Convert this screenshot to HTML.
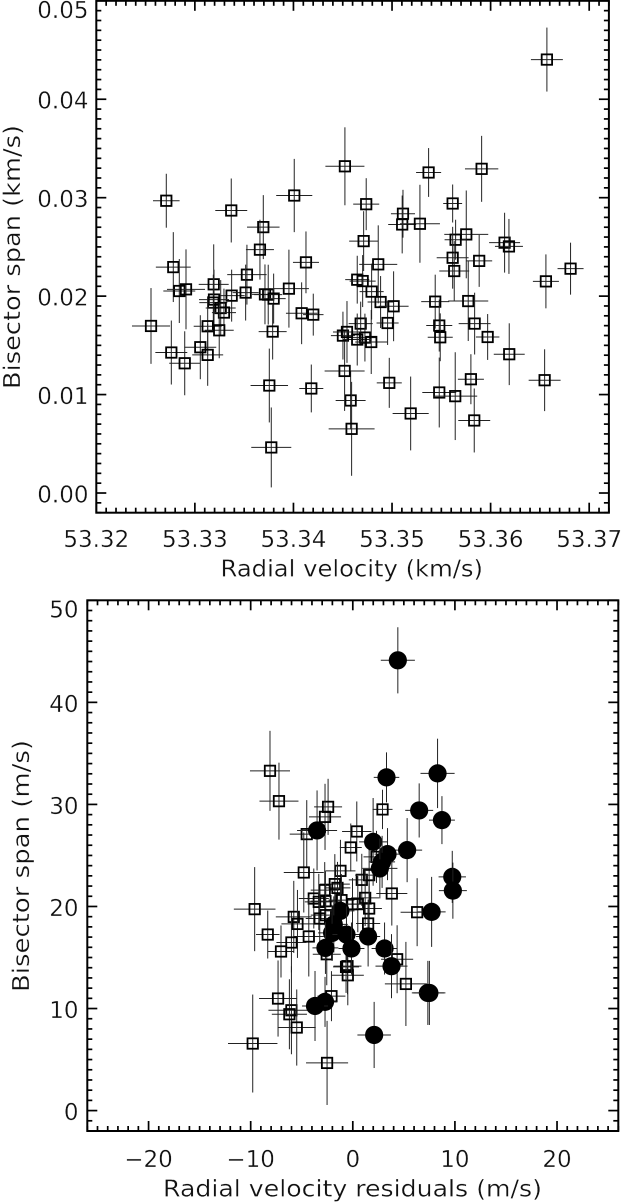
<!DOCTYPE html>
<html lang="en">
<head>
<meta charset="utf-8">
<title>Bisector span vs radial velocity</title>
<style>
html,body{margin:0;padding:0;background:#fff;}
svg{display:block;}
text{font-family:"DejaVu Sans","Liberation Sans",sans-serif;fill:#111;stroke:#fff;stroke-width:0.3px;paint-order:normal;}
</style>
</head>
<body>
<svg id="figure" width="621" height="1204" viewBox="0 0 621 1204" xmlns="http://www.w3.org/2000/svg">
<rect x="0" y="0" width="621" height="1204" fill="#fff"/>
<g id="top-panel"></g>
<g id="bottom-panel"></g>
<text x="220.5" y="576.5" font-size="23" textLength="262.5" lengthAdjust="spacingAndGlyphs">Radial velocity (km/s)</text>
<text transform="translate(20,389) rotate(-90)" font-size="23" textLength="264" lengthAdjust="spacingAndGlyphs">Bisector span (km/s)</text>
<text x="163" y="1196.5" font-size="23" textLength="379" lengthAdjust="spacingAndGlyphs">Radial velocity residuals (m/s)</text>
<text transform="translate(29,992) rotate(-90)" font-size="23" textLength="252" lengthAdjust="spacingAndGlyphs">Bisector span (m/s)</text>
</svg>
<script>
// Top panel data (km/s)
const topVelocity = [53.34522,53.34008,53.32710,53.33369,53.33694,53.33660,53.34127,53.34712,53.36571,53.35909,53.35371,53.34738,53.35615,53.35111,53.35103,53.35283,53.35753,53.35645,53.36142,53.36186,53.35615,53.34860,53.35884,53.35631,53.36561,53.36811,53.34647,53.34702,53.34793,53.34884,53.35016,53.35438,53.35773,53.34955,53.34682,53.35838,53.35479,53.35489,53.35970,53.34725,53.34647,53.34789,53.36189,53.35800,53.36548,53.34972,53.35479,53.35641,53.35189,53.35834,53.34580,53.34590,53.32781,53.32842,53.32910,53.33528,53.33191,53.33373,53.33515,53.33711,53.33744,53.33799,53.33954,53.33194,53.33187,53.33262,53.33295,53.32555,53.33130,53.33247,53.34083,53.34201,53.33789,53.32761,53.33055,53.33130,53.32897,53.33755,53.34181,53.34519,53.33775,53.34502,53.34543];
const topSpan = [0.03319,0.03022,0.02969,0.02870,0.02701,0.02472,0.02343,0.02559,0.04403,0.03293,0.03256,0.02934,0.02941,0.02837,0.02728,0.02735,0.02627,0.02573,0.02543,0.02505,0.02390,0.02323,0.02358,0.02255,0.02150,0.02279,0.02167,0.02153,0.02046,0.01940,0.01897,0.01944,0.01950,0.01727,0.01721,0.01721,0.01701,0.01582,0.01585,0.01579,0.01559,0.01534,0.01410,0.01156,0.01146,0.01119,0.01021,0.00984,0.00808,0.00737,0.00940,0.00652,0.02295,0.02052,0.02069,0.02218,0.02120,0.02005,0.02036,0.02018,0.02015,0.01975,0.02076,0.01965,0.01934,0.01879,0.01833,0.01697,0.01694,0.01653,0.01826,0.01812,0.01640,0.01427,0.01481,0.01403,0.01318,0.01092,0.01062,0.01240,0.00463,0.01599,0.01636];
const topVelocityErr = [0.00198,0.00183,0.00135,0.00162,0.00165,0.00142,0.00132,0.00147,0.00162,0.00169,0.00127,0.00132,0.00096,0.00122,0.00142,0.00203,0.00223,0.00112,0.00157,0.00142,0.00162,0.00193,0.00132,0.00152,0.00132,0.00132,0.00122,0.00132,0.00122,0.00132,0.00152,0.00142,0.00203,0.00112,0.00122,0.00162,0.00132,0.00127,0.00119,0.00122,0.00142,0.00162,0.00157,0.00132,0.00162,0.00127,0.00172,0.00223,0.00183,0.00162,0.00152,0.00233,0.00177,0.00162,0.00193,0.00200,0.00152,0.00132,0.00132,0.00132,0.00142,0.00122,0.00203,0.00152,0.00142,0.00152,0.00122,0.00193,0.00142,0.00147,0.00159,0.00104,0.00142,0.00162,0.00162,0.00157,0.00157,0.00190,0.00122,0.00203,0.00203,0.00122,0.00142];
const topSpanErr = [0.00396,0.00372,0.00274,0.00325,0.00325,0.00304,0.00314,0.00304,0.00325,0.00335,0.00248,0.00264,0.00193,0.00243,0.00294,0.00396,0.00446,0.00203,0.00304,0.00279,0.00314,0.00396,0.00264,0.00304,0.00274,0.00264,0.00243,0.00264,0.00284,0.00264,0.00355,0.00274,0.00406,0.00223,0.00223,0.00314,0.00264,0.00243,0.00233,0.00243,0.00264,0.00325,0.00314,0.00254,0.00314,0.00254,0.00355,0.00446,0.00375,0.00325,0.00294,0.00477,0.00355,0.00325,0.00406,0.00304,0.00406,0.00264,0.00284,0.00304,0.00304,0.00254,0.00396,0.00304,0.00284,0.00284,0.00243,0.00385,0.00304,0.00284,0.00314,0.00213,0.00284,0.00325,0.00325,0.00314,0.00325,0.00375,0.00243,0.00406,0.00406,0.00243,0.00314];

// Bottom panel: open squares (m/s)
const squareResidual = [-8.11,-7.23,-2.42,-2.72,-4.51,0.39,2.91,-0.20,-4.80,-1.21,2.32,3.82,0.88,1.60,-1.76,-1.50,-2.75,1.21,-3.82,-3.33,-2.68,-9.61,6.30,-1.11,-0.03,0.49,1.60,1.50,-5.78,-5.42,-8.33,-4.31,-6.01,-7.03,-2.55,-3.24,-2.65,-7.32,-6.01,-6.21,-5.49,-9.80,-2.52,-2.09,5.20,4.34,-0.49,-0.52,-0.66];
const squareSpan = [33.29,30.32,29.76,28.78,27.09,27.35,29.51,25.78,23.33,23.49,24.86,21.27,22.61,23.07,22.19,21.82,21.60,20.84,20.78,20.45,20.52,19.74,19.44,20.62,20.23,20.23,19.80,18.33,18.98,18.29,17.25,17.06,16.47,15.59,15.32,18.82,19.15,10.98,9.83,9.44,8.14,6.57,4.67,11.21,12.41,14.83,13.26,14.15,14.08];
const squareResidualErr = [1.96,1.91,1.37,1.57,1.67,1.44,0.98,1.08,1.96,1.47,1.27,1.52,1.27,1.37,1.47,1.27,1.37,1.37,1.47,1.37,1.47,2.04,1.62,1.27,1.27,1.37,1.25,1.18,1.76,1.57,1.15,1.47,1.47,1.27,1.37,1.37,1.47,1.86,2.25,1.72,1.86,2.42,2.06,1.37,2.06,1.57,1.57,1.37,1.27];
const squareSpanErr = [3.92,3.77,2.75,3.24,3.33,2.94,1.93,2.35,3.92,3.04,2.55,3.14,2.55,2.65,2.94,2.55,2.75,2.75,2.94,2.75,2.94,4.12,3.33,2.55,2.55,2.75,2.45,2.35,3.53,3.33,2.35,3.92,2.94,2.55,3.04,2.75,2.94,3.73,4.31,3.43,3.73,4.80,4.12,2.45,4.12,3.33,2.94,2.75,2.55];

// Bottom panel: filled circles (m/s)
const circleResidual = [4.41,3.30,8.30,6.50,8.73,-3.50,1.99,5.32,3.40,2.87,2.65,9.74,9.80,7.72,-1.21,-1.86,-2.03,-0.62,1.50,-0.13,-2.68,3.11,3.79,7.35,7.50,-2.72,-3.70,2.09];
const circleSpan = [44.12,32.65,33.04,29.41,28.46,27.45,26.33,25.52,25.13,24.37,23.73,22.90,21.55,19.47,19.57,18.24,17.41,17.25,17.06,15.88,15.94,15.88,14.15,11.53,11.53,10.65,10.25,7.41];
const circleResidualErr = [1.67,1.25,1.67,1.37,1.27,1.96,1.37,1.47,1.27,1.27,1.72,1.34,1.37,1.37,1.37,1.37,1.37,1.37,1.18,1.27,1.27,1.27,1.57,1.57,1.57,1.18,1.27,1.64];
const circleSpanErr = [3.24,2.45,3.40,2.65,2.35,3.92,4.30,3.14,2.55,2.55,2.94,2.55,2.75,3.43,2.75,2.75,2.75,2.75,2.94,2.55,2.55,2.55,3.14,3.14,3.14,2.45,3.43,3.24];

// Tick values and labels
const topXTicks = [53.32,53.33,53.34,53.35,53.36,53.37];
const topXLabels = ["53.32","53.33","53.34","53.35","53.36","53.37"];
const topYTicks = [0,0.01,0.02,0.03,0.04,0.05];
const topYLabels = ["0.00","0.01","0.02","0.03","0.04","0.05"];
const bottomXTicks = [-20,-10,0,10,20];
const bottomXLabels = ["\u221220","\u221210","0","10","20"];
const bottomYTicks = [0,10,20,30,40,50];
const bottomYLabels = ["0","10","20","30","40","50"];

const NS = 'http://www.w3.org/2000/svg';

function makeScale(d0, d1, p0, p1) {
  return function (v) { return p0 + (v - d0) * (p1 - p0) / (d1 - d0); };
}

function addLine(parent, x1, y1, x2, y2, width, color, name) {
  const el = document.createElementNS(NS, 'line');
  el.setAttribute('x1', x1);
  el.setAttribute('y1', y1);
  el.setAttribute('x2', x2);
  el.setAttribute('y2', y2);
  el.setAttribute('stroke', color);
  el.setAttribute('stroke-width', width);
  
  
  parent.appendChild(el);
}

function addLabel(parent, x, y, anchor, str, name) {
  const el = document.createElementNS(NS, 'text');
  el.setAttribute('x', x);
  el.setAttribute('y', y);
  el.setAttribute('text-anchor', anchor);
  el.setAttribute('font-size', '23');
  el.textContent = str;
  
  
  parent.appendChild(el);
}

function drawAxes(parent, box, sx, sy, xRange, yRange, xTicks, xLabels, yTicks, yLabels, xMinor, yMinor, labelRight, xBase) {
  const frame = document.createElementNS(NS, 'rect');
  frame.setAttribute('x', box.l);
  frame.setAttribute('y', box.t);
  frame.setAttribute('width', box.r - box.l);
  frame.setAttribute('height', box.b - box.t);
  frame.setAttribute('fill', 'none');
  frame.setAttribute('stroke', '#000');
  frame.setAttribute('stroke-width', '2');
  
  
  parent.appendChild(frame);

  const nx = Math.round((xRange[1] - xRange[0]) / xMinor);
  for (let i = 0; i <= nx; i++) {
    const v = xRange[0] + i * xMinor;
    const isMajor = xTicks.some(function (t) { return Math.abs(t - v) < xMinor / 10; });
    const len = isMajor ? 10 : 5;
    const px = sx(v);
    addLine(parent, px, box.b, px, box.b - len, 1.7, '#000', 'x-axis-tick-bottom');
    addLine(parent, px, box.t, px, box.t + len, 1.7, '#000', 'x-axis-tick-top');
  }
  const ny = Math.round((yRange[1] - yRange[0]) / yMinor);
  for (let i = 0; i <= ny; i++) {
    const v = yRange[0] + i * yMinor;
    const isMajor = yTicks.some(function (t) { return Math.abs(t - v) < yMinor / 10; });
    const len = isMajor ? 10 : 5;
    const py = sy(v);
    addLine(parent, box.l, py, box.l + len, py, 1.7, '#000', 'y-axis-tick-left');
    addLine(parent, box.r, py, box.r - len, py, 1.7, '#000', 'y-axis-tick-right');
  }
  xTicks.forEach(function (t, i) {
    addLabel(parent, sx(t), xBase, 'middle', xLabels[i], 'x-tick-label');
  });
  yTicks.forEach(function (t, i) {
    const base = Math.max(sy(t) + 9.5, box.t + 17);
    addLabel(parent, labelRight, base, 'end', yLabels[i], 'y-tick-label');
  });
}

function drawErrorBars(parent, px, py, x0, x1, y0, y1) {
  addLine(parent, x0, py, x1, py, 1, '#222', 'x-error-bar');
  addLine(parent, px, y0, px, y1, 1, '#222', 'y-error-bar');
}

function drawSquares(parent, sx, sy, xs, ys, exs, eys) {
  xs.forEach(function (v, i) {
    const px = sx(v);
    const py = sy(ys[i]);
    drawErrorBars(parent, px, py, sx(v - exs[i]), sx(v + exs[i]), sy(ys[i] + eys[i]), sy(ys[i] - eys[i]));
    const el = document.createElementNS(NS, 'rect');
    el.setAttribute('x', px - 5.2);
    el.setAttribute('y', py - 5.2);
    el.setAttribute('width', 10.4);
    el.setAttribute('height', 10.4);
    el.setAttribute('fill', 'none');
    el.setAttribute('stroke', '#000');
    el.setAttribute('stroke-width', '1.8');
    
    
    parent.appendChild(el);
  });
}

function drawCircles(parent, sx, sy, xs, ys, exs, eys) {
  xs.forEach(function (v, i) {
    const px = sx(v);
    const py = sy(ys[i]);
    drawErrorBars(parent, px, py, sx(v - exs[i]), sx(v + exs[i]), sy(ys[i] + eys[i]), sy(ys[i] - eys[i]));
    const el = document.createElementNS(NS, 'circle');
    el.setAttribute('cx', px);
    el.setAttribute('cy', py);
    el.setAttribute('r', 9.1);
    el.setAttribute('fill', '#000');
    
    
    parent.appendChild(el);
  });
}

// Top panel
const topBox = { l: 96.3, r: 608.9, t: 0.8, b: 512.7 };
const topX = makeScale(53.32, 53.372, topBox.l, topBox.r);
const topY = makeScale(-0.002, 0.05, topBox.b, topBox.t);
const topGroup = document.getElementById('top-panel');
drawAxes(topGroup, topBox, topX, topY, [53.32, 53.372], [-0.002, 0.05], topXTicks, topXLabels, topYTicks, topYLabels, 0.001, 0.001, 88.5, 547);
drawSquares(topGroup, topX, topY, topVelocity, topSpan, topVelocityErr, topSpanErr);

// Bottom panel
const bottomBox = { l: 87.3, r: 618.3, t: 600.3, b: 1131 };
const bottomX = makeScale(-26, 26, bottomBox.l, bottomBox.r);
const bottomY = makeScale(-2, 50, bottomBox.b, bottomBox.t);
const bottomGroup = document.getElementById('bottom-panel');
drawAxes(bottomGroup, bottomBox, bottomX, bottomY, [-26, 26], [-2, 50], bottomXTicks, bottomXLabels, bottomYTicks, bottomYLabels, 1, 1, 78.5, 1167);
drawSquares(bottomGroup, bottomX, bottomY, squareResidual, squareSpan, squareResidualErr, squareSpanErr);
drawCircles(bottomGroup, bottomX, bottomY, circleResidual, circleSpan, circleResidualErr, circleSpanErr);
</script>
</body>
</html>
